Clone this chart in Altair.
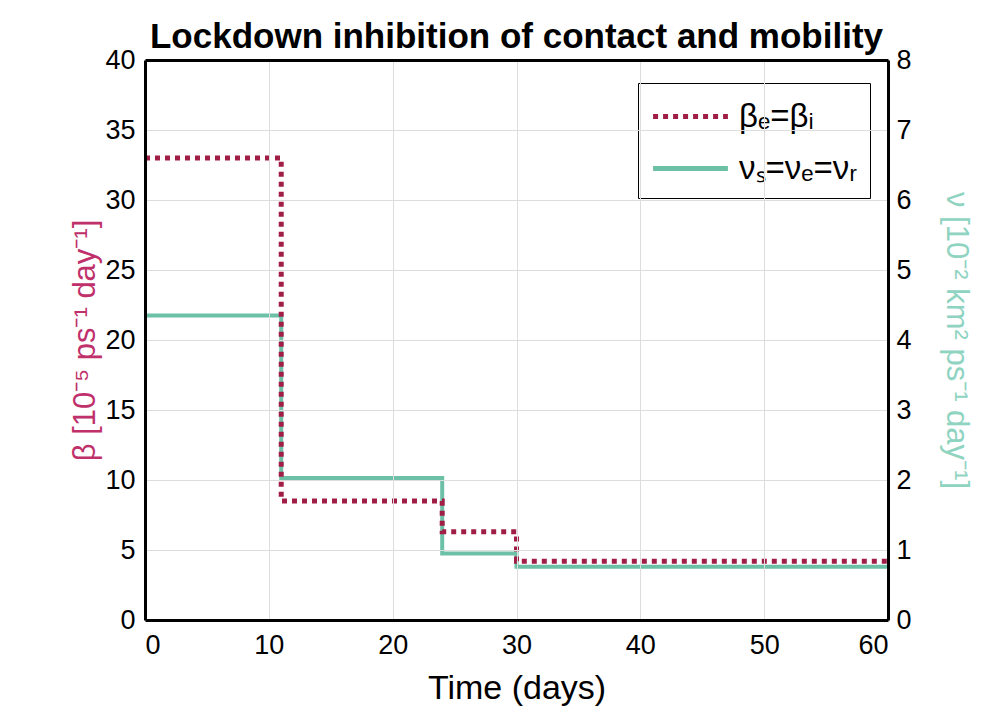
import altair as alt
import pandas as pd

# Step-function data (value holds from each time until the next)
t_beta = [0, 11, 24, 30, 60]
beta = [33, 8.5, 6.3, 4.2, 4.2]
t_nu = [0, 11, 24, 30, 60]
nu = [4.35, 2.03, 0.95, 0.76, 0.76]

x_ticks = [0, 10, 20, 30, 40, 50, 60]
left_ticks = [0, 5, 10, 15, 20, 25, 30, 35, 40]
right_ticks = [0, 1, 2, 3, 4, 5, 6, 7, 8]

labels = ["βₑ=βᵢ", "νₛ=νₑ=νᵣ"]
colors = ["#A01E46", "#6CC0A5"]
dashes = [[5, 5], [1, 0]]

df_b = pd.DataFrame({"t": t_beta, "v": beta, "s": labels[0]})
df_n = pd.DataFrame({"t": t_nu, "v": nu, "s": labels[1]})

FONT = "Liberation Sans"

leg = alt.Legend(
    title=None, orient="none", legendX=493, legendY=23,
    symbolType="M-2,0H2", symbolSize=1400, symbolStrokeWidth=5,
    symbolOffset=19,
    labelFontSize=33, labelFont=FONT, labelColor="black",
    strokeColor="black", fillColor="white", padding=12, rowPadding=13,
    labelOffset=27,
)
color = alt.Color("s:N", scale=alt.Scale(domain=labels, range=colors), legend=leg)
dash = alt.StrokeDash("s:N", scale=alt.Scale(domain=labels, range=dashes), legend=leg)

x_grid = {"condition": {"test": "datum.value <= 0 || datum.value >= 60", "value": 0}, "value": 1}
y_grid = {"condition": {"test": "datum.value <= 0 || datum.value >= 40", "value": 0}, "value": 1}

x_scale = alt.Scale(domain=[0, 60], nice=False)

x_bottom = alt.X("t:Q", scale=x_scale,
                 axis=alt.Axis(values=x_ticks, title="Time (days)", grid=True,
                               gridOpacity=x_grid, domain=True, domainColor="#000000",
                               domainWidth=3, zindex=1,
                               titleFontSize=34, labelFontSize=27, titlePadding=13,
                               labelPadding=12, ticks=False, titleFontWeight="normal"))

left = alt.Chart(df_b).mark_line(interpolate="step-after", strokeWidth=5).encode(
    x=x_bottom,
    y=alt.Y("v:Q", scale=alt.Scale(domain=[0, 40], nice=False),
            axis=alt.Axis(orient="left", values=left_ticks, grid=True,
                          gridOpacity=y_grid, domain=True, domainColor="#000000",
                          domainWidth=3, zindex=1,
                          title="β [10⁻⁵ ps⁻¹ day⁻¹]", titleColor="#C0306A",
                          titleFontSize=31, labelFontSize=27, titlePadding=3,
                          labelPadding=10, ticks=False, titleFontWeight="normal")),
    color=color, strokeDash=dash,
)

right = alt.Chart(df_n).mark_line(interpolate="step-after", strokeWidth=4).encode(
    x=alt.X("t:Q", scale=x_scale, axis=None),
    y=alt.Y("v:Q", scale=alt.Scale(domain=[0, 8], nice=False),
            axis=alt.Axis(orient="right", values=right_ticks, grid=False,
                          domain=True, domainColor="#000000", domainWidth=3,
                          zindex=1,
                          title="ν [10⁻² km² ps⁻¹ day⁻¹]", titleColor="#8FD3C1",
                          titleFontSize=31, labelFontSize=27, titlePadding=28,
                          labelPadding=8, ticks=False, titleAngle=90,
                          titleFontWeight="normal")),
    color=color, strokeDash=dash,
)

# invisible layer carrying only the top frame line
top = alt.Chart(df_n).mark_line(opacity=0).encode(
    x=alt.X("t:Q", scale=x_scale,
            axis=alt.Axis(orient="top", labels=False, ticks=False, grid=False,
                          domain=True, domainColor="#000000", domainWidth=3,
                          title=None, zindex=1)),
    y=alt.Y("v:Q", scale=alt.Scale(domain=[0, 8], nice=False), axis=None),
)

chart = alt.layer(right, left, top).resolve_scale(y="independent").resolve_axis(
    x="independent"
).properties(
    width=743, height=560,
    autosize=alt.AutoSizeParams(type="none"),
    padding={"left": 137, "top": 52, "right": 92, "bottom": 90},
    title=alt.TitleParams("Lockdown inhibition of contact and mobility",
                          fontSize=35, fontWeight="bold", font=FONT,
                          anchor="middle", frame="group", offset=-9, color="black"),
).configure_view(stroke="#000000", strokeWidth=3, strokeOpacity=1).configure_axis(
    labelColor="black", labelFont=FONT,
    titleFont=FONT, titleFontWeight="normal", gridColor="#E2E2E2", gridWidth=1.5,
).configure(background="white")

chart.save("out.html", embed_options={"renderer": "svg", "actions": False})
